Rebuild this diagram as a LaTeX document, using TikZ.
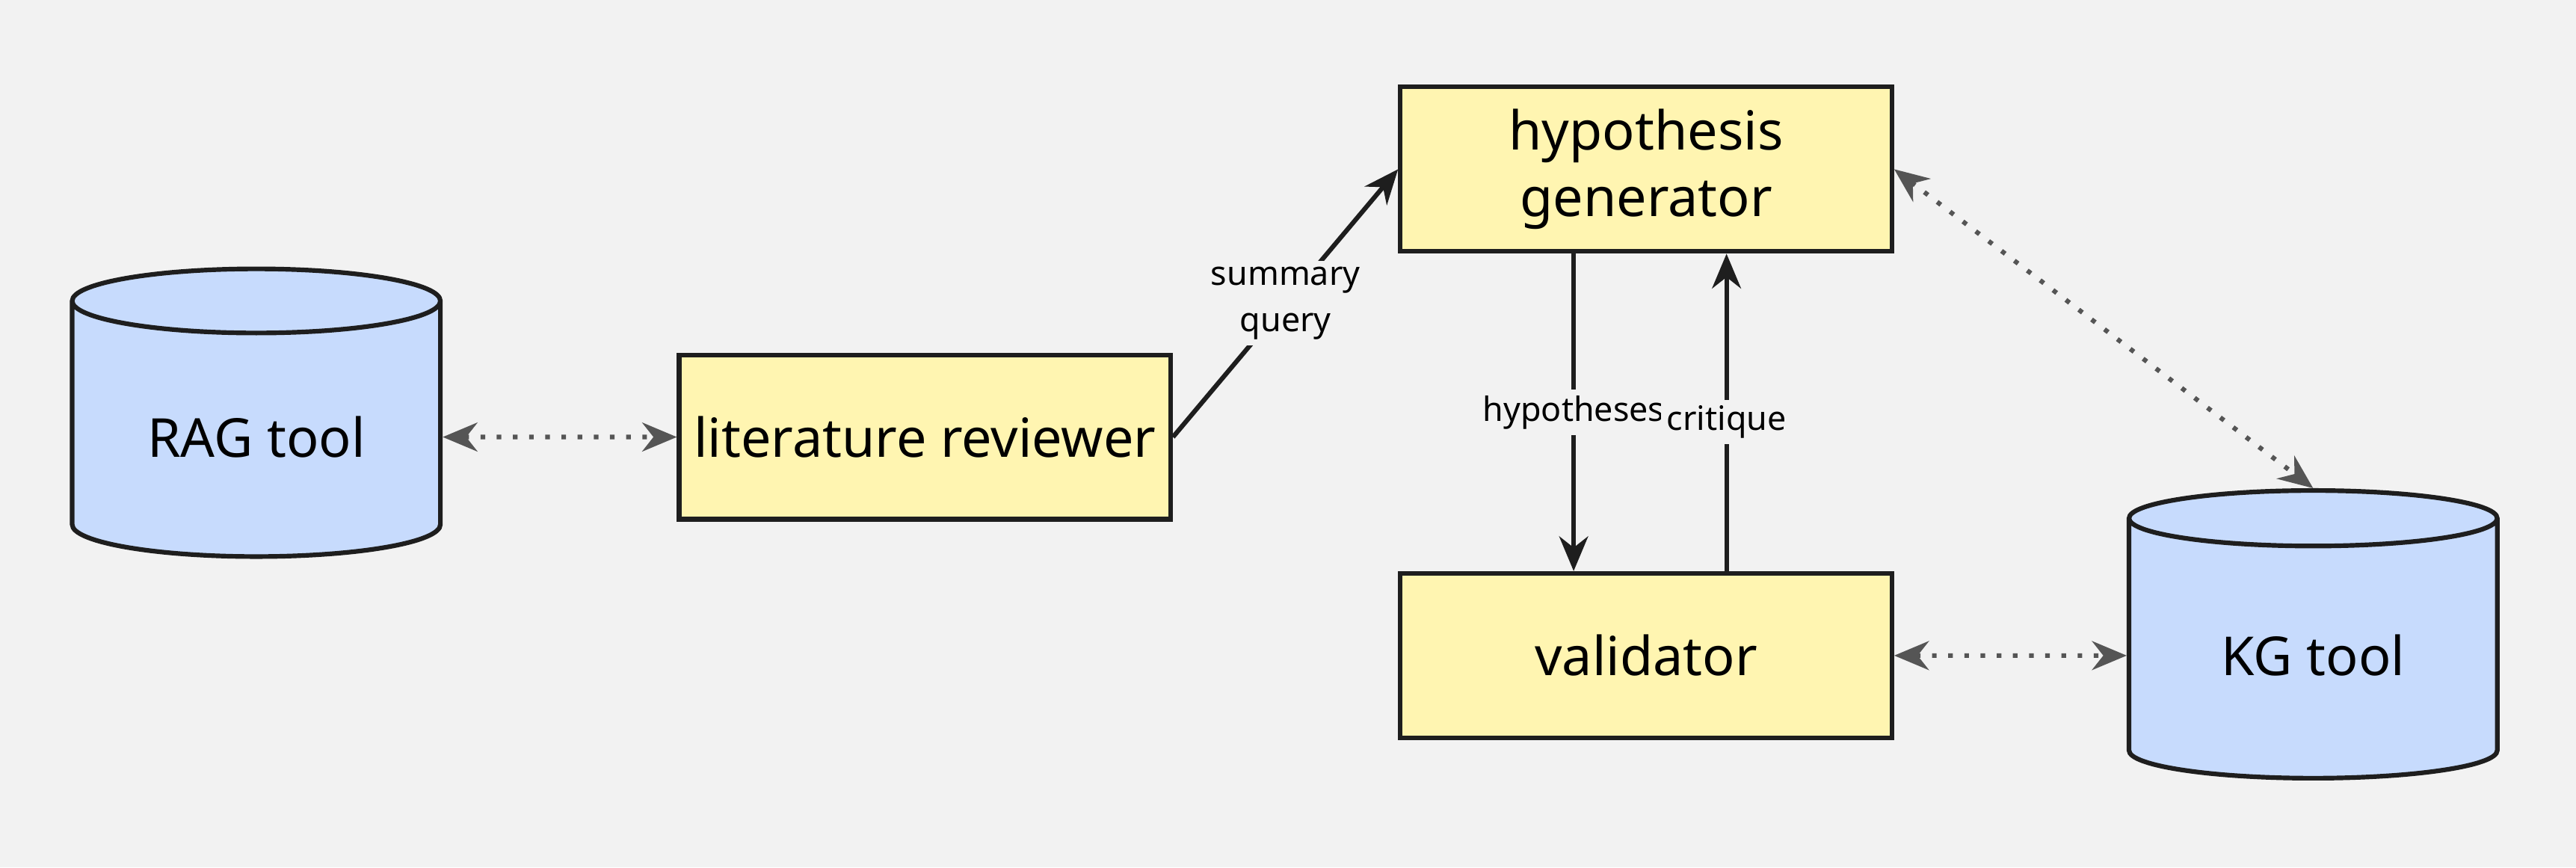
\documentclass[tikz,border=0pt]{standalone}
\usepackage{fontspec}
\setmainfont{Noto Sans}
\usetikzlibrary{shapes.geometric,arrows.meta}
\definecolor{bgc}{HTML}{F2F2F2}
\definecolor{boxc}{HTML}{FFF5B1}
\definecolor{dbc}{HTML}{C7DBFD}
\definecolor{linec}{HTML}{1E1E1E}
\definecolor{dotc}{HTML}{555555}

\begin{document}
\begin{tikzpicture}[x=0.01cm,y=-0.01cm,
  agent/.style={draw=linec, line width=0.8pt, fill=boxc, minimum width=2.99cm, minimum height=1cm, inner xsep=2pt, align=center, font=\fontsize{9.3}{11.5}\selectfont},
  db/.style={cylinder, shape border rotate=90, aspect=0.25, draw=linec, line width=0.8pt, fill=dbc, minimum width=2.24cm, minimum height=1.75cm, font=\fontsize{9.3}{11.5}\selectfont},
  flow/.style={-{Stealth[length=6pt,width=5pt]}, draw=linec, line width=0.8pt},
  tool/.style={{Stealth[length=6pt,width=5pt]}-{Stealth[length=6pt,width=5pt]}, dotc, line width=0.8pt, dotted},
  lbl/.style={fill=bgc, inner sep=1pt, font=\fontsize{5.8}{8}\selectfont, align=center}]
\fill[bgc] (0,0) rectangle (1568,528);

\node[db] (rag) at (156,266) {RAG tool};
\node[agent] (lit) at (563,266) {literature reviewer};
\node[agent] (hyp) at (1002,103) {hypothesis\\generator};
\node[agent] (val) at (1002,399) {validator};
\node[db] (kg) at (1408,399) {KG tool};

\draw[tool] (rag.east) -- (lit.west);
\draw[flow] (lit.east) -- node[lbl] {summary\\query} (hyp.west);
\draw[flow] ([xshift=-1.95cm]hyp.south east) -- node[lbl] {hypotheses} ([xshift=-1.95cm]val.north east);
\draw[flow] ([xshift=-1.02cm]val.north east) -- node[lbl, pos=0.47] {critique} ([xshift=-1.02cm]hyp.south east);
\draw[tool] (hyp.east) -- (kg.north);
\draw[tool] (val.east) -- (kg.west);
\end{tikzpicture}
\end{document}
